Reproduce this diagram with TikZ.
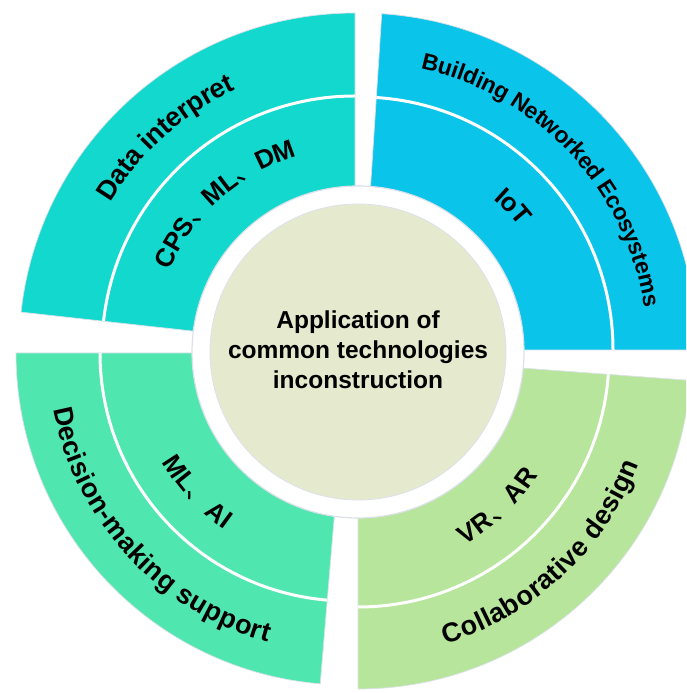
\documentclass[tikz,border=0pt]{standalone}
\usepackage{fontspec}
\setmainfont{Liberation Sans}
\newfontfamily\cjkfont{Noto Sans CJK SC}
\usetikzlibrary{calc,decorations.text}

\definecolor{secTL}{RGB}{18,216,206}
\definecolor{secTR}{RGB}{10,196,234}
\definecolor{secBL}{RGB}{80,230,176}
\definecolor{secBR}{RGB}{183,229,156}
\definecolor{hubfill}{RGB}{229,234,207}
\definecolor{rimline}{RGB}{220,225,233}

\newcommand\outerfont{\fontsize{27}{30}\selectfont\bfseries}
\newcommand\smallouterfont{\fontsize{23}{26}\selectfont\bfseries}
\newcommand\innerfont{\fontsize{26}{30}\selectfont\bfseries}
\newcommand\innercjk{\cjkfont\fontsize{26}{30}\selectfont}

% annular sector: #1 style, #2 vertex, #3 start angle, #4 end angle, #5 inner r, #6 outer r
\newcommand\ringpiece[6]{%
  \path[#1] ($(#2)+(#3:#5)$) arc[start angle=#3,end angle=#4,radius=#5]
    -- ($(#2)+(#4:#6)$) arc[start angle=#4,end angle=#3,radius=#6] -- cycle;}
% white separating arc inside a sector
\newcommand\splitarc[4]{%
  \draw[splitline] ($(#1)+(#2:#4)$) arc[start angle=#2,end angle=#3,radius=#4];}
% curved label: #1 vertex, #2 from, #3 to, #4 radius, #5 raise, #6 text
\newcommand\arclabel[6]{%
  \path[decorate,decoration={text along path,text align=center,raise=#5,text={#6}}]
    ($(#1)+(#2:#4)$) arc[start angle=#2,end angle=#3,radius=#4];}

\tikzset{
  piece/.style={fill=#1, draw=rimline, line width=0.7pt},
  splitline/.style={white, line width=3pt},
}

\begin{document}
\begin{tikzpicture}[x=1pt,y=1pt]
  \path[use as bounding box] (0,0) rectangle (686,693);
  \clip (0,0) rectangle (686,693);
  \fill[white] (0,0) rectangle (686,693);

  % sector vertices
  \coordinate (vTL) at (355,344);
  \coordinate (vTR) at (360,343);
  \coordinate (vBL) at (348,340);
  \coordinate (vBR) at (358,337);
  \coordinate (hubc) at (358,341);

  % four sectors
  \ringpiece{piece=secTL}{vTL}{90}{173.7}{140}{336}
  \ringpiece{piece=secTR}{vTR}{0}{86.3}{140}{337}
  \ringpiece{piece=secBL}{vBL}{180}{265.2}{140}{332}
  \ringpiece{piece=secBR}{vBR}{270}{355.8}{140}{333}

  % band separators
  \splitarc{vTL}{90}{173.7}{253}
  \splitarc{vTR}{0}{86.3}{253}
  \splitarc{vBL}{180}{265.2}{248}
  \splitarc{vBR}{270}{355.8}{251}

  % hub
  \filldraw[fill=white, draw=rimline, line width=1.2pt] (hubc) circle[radius=166];
  \filldraw[fill=hubfill, draw=rimline, line width=0.8pt] (hubc) circle[radius=148];
  \node[font=\fontsize{24.5}{30}\selectfont\bfseries, align=center] (title) at (358,343)
    {Application of\\common technologies\\inconstruction};

  % outer band labels
  \arclabel{vTL}{173.7}{90}{294}{-9pt}{|\outerfont|Data interpret}
  \arclabel{vTR}{86.3}{0}{295}{-7.6pt}{|\smallouterfont|Building Networked Ecosystems}
  \arclabel{vBL}{180}{265.2}{291}{-9pt}{|\outerfont|Decision-making support}
  \arclabel{vBR}{270}{355.8}{292}{-9pt}{|\outerfont|Collaborative design}

  % inner band labels
  \arclabel{vTL}{173.7}{90}{210}{-8.6pt}{|\innerfont|CPS|\innercjk|、|\innerfont|ML|\innercjk|、|\innerfont|DM}
  \arclabel{vTR}{86.3}{0}{210}{-8.6pt}{|\innerfont|IoT}
  \arclabel{vBL}{180}{265.2}{207}{-8.6pt}{|\innerfont|ML|\innercjk|、|\innerfont|AI}
  \arclabel{vBR}{270}{355.8}{208}{-8.6pt}{|\innerfont|VR|\innercjk|、|\innerfont|AR}
\end{tikzpicture}
\end{document}
